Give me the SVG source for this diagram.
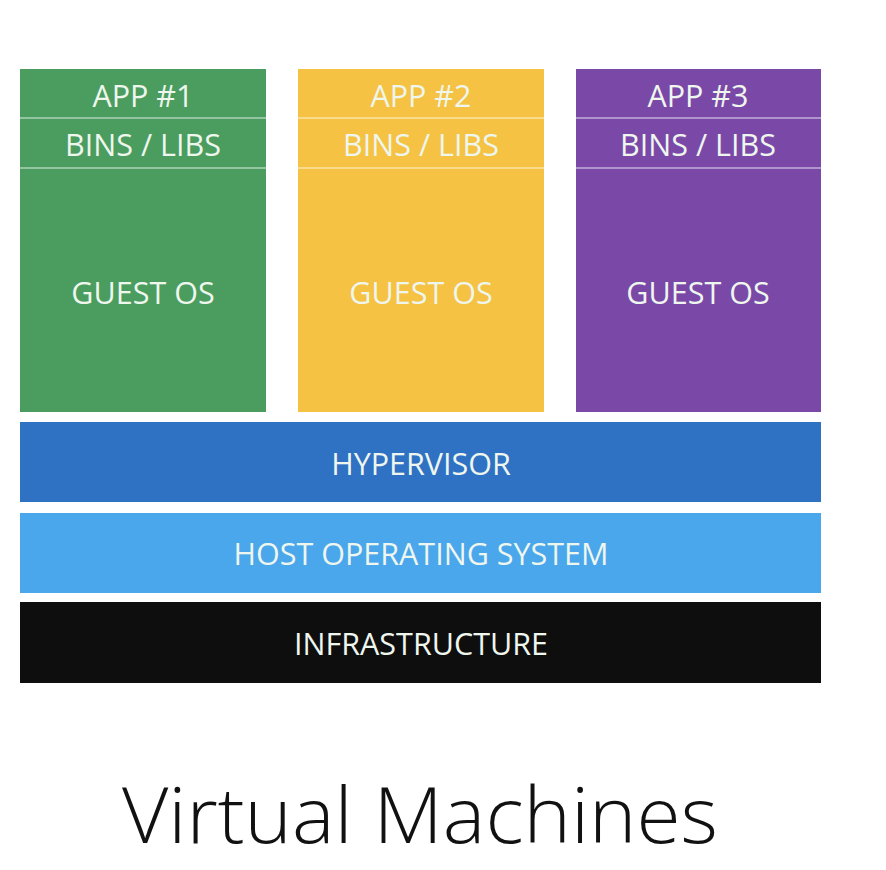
<svg xmlns="http://www.w3.org/2000/svg" width="886" height="870" viewBox="0 0 886 870">
<style>
.lbl{font-family:"Open Sans","Liberation Sans",sans-serif;font-size:30.5px;fill:#eef6ee;text-anchor:middle;dominant-baseline:central}
.div{stroke:#ffffff;stroke-opacity:0.55;stroke-width:1.5}
.title{font-family:"Open Sans","Liberation Sans",sans-serif;font-weight:300;font-size:78px;fill:#111;text-anchor:middle}
</style>
<rect width="886" height="870" fill="#ffffff"/>
<g id="vm1">
<rect x="20" y="69" width="246" height="343" fill="#4a9d5f"/>
<line class="div" x1="20" y1="118" x2="266" y2="118"/>
<line class="div" x1="20" y1="168" x2="266" y2="168"/>
<text class="lbl" x="143" y="95">APP #1</text>
<text class="lbl" x="143" y="144">BINS / LIBS</text>
<text class="lbl" x="143" y="292">GUEST OS</text>
</g>
<g id="vm2">
<rect x="298" y="69" width="246" height="343" fill="#f5c243"/>
<line class="div" x1="298" y1="118" x2="544" y2="118"/>
<line class="div" x1="298" y1="168" x2="544" y2="168"/>
<text class="lbl" x="421" y="95">APP #2</text>
<text class="lbl" x="421" y="144">BINS / LIBS</text>
<text class="lbl" x="421" y="292">GUEST OS</text>
</g>
<g id="vm3">
<rect x="576" y="69" width="245" height="343" fill="#7a49a8"/>
<line class="div" x1="576" y1="118" x2="821" y2="118"/>
<line class="div" x1="576" y1="168" x2="821" y2="168"/>
<text class="lbl" x="698" y="95">APP #3</text>
<text class="lbl" x="698" y="144">BINS / LIBS</text>
<text class="lbl" x="698" y="292">GUEST OS</text>
</g>
<g id="hypervisor">
<rect x="20" y="422" width="801" height="80" fill="#2f71c3"/>
<text class="lbl" x="421" y="463">HYPERVISOR</text>
</g>
<g id="hostos">
<rect x="20" y="513" width="801" height="80" fill="#4aa7eb"/>
<text class="lbl" x="421" y="553">HOST OPERATING SYSTEM</text>
</g>
<g id="infrastructure">
<rect x="20" y="602" width="801" height="81" fill="#0e0e0e"/>
<text class="lbl" x="421" y="643">INFRASTRUCTURE</text>
</g>
<g id="connectors"></g>
<text class="title" x="420" y="843" textLength="596" lengthAdjust="spacingAndGlyphs">Virtual Machines</text>
</svg>
